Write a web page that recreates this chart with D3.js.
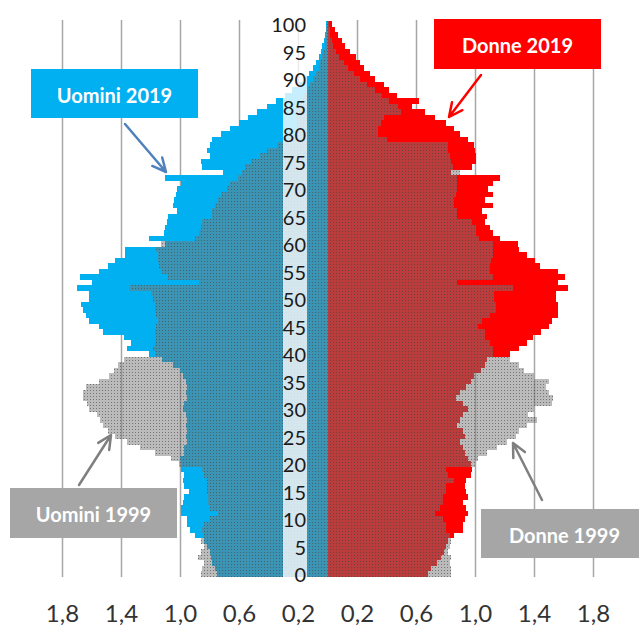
<!DOCTYPE html>
<html>
<head>
<meta charset="utf-8">
<script src="https://cdn.jsdelivr.net/npm/d3@7"></script>
<style>
body { margin:0; background:#fff; }
svg { display:block; font-family: Lato, "Open Sans", sans-serif; }
</style>
</head>
<body>
<svg id="chart" width="639" height="628"></svg>
<script>
// eta 0..100, quote in % della popolazione dello stesso sesso
var eta = d3.range(0, 101)

var uomini2019 = [0.75,0.76,0.78,0.79,0.80,0.82,0.84,0.90,0.93,0.95,
	0.95,0.99,0.99,0.98,0.97,0.94,0.97,0.98,0.97,0.99,
	0.99,1.00,0.97,0.97,0.95,0.96,0.95,0.96,0.95,0.96,
	0.98,0.97,0.95,0.96,0.95,0.96,0.98,1.00,1.05,1.12,
	1.21,1.36,1.33,1.38,1.52,1.55,1.62,1.64,1.66,1.67,
	1.62,1.62,1.70,1.60,1.68,1.55,1.49,1.44,1.37,1.37,
	1.10,1.21,1.11,1.10,1.09,1.08,1.02,1.05,1.04,1.03,
	1.02,0.99,1.10,0.71,0.85,0.86,0.80,0.82,0.80,0.78,
	0.72,0.66,0.60,0.54,0.48,0.41,0.35,0.29,0.24,0.19,
	0.155,0.125,0.10,0.08,0.06,0.045,0.035,0.025,0.018,0.012,
	0.01]

var uomini1999 = [0.86,0.85,0.84,0.88,0.86,0.84,0.86,0.84,0.85,0.84,
	0.80,0.74,0.80,0.81,0.81,0.82,0.82,0.82,0.84,0.85,
	1.01,1.06,1.17,1.27,1.36,1.44,1.49,1.52,1.54,1.56,
	1.62,1.63,1.66,1.66,1.64,1.55,1.48,1.45,1.42,1.38,
	1.17,1.18,1.17,1.16,1.17,1.16,1.15,1.16,1.17,1.17,
	1.18,1.20,1.34,0.87,1.08,1.12,1.14,1.15,1.15,1.16,
	1.13,0.90,0.87,0.86,0.85,0.78,0.78,0.76,0.74,0.72,
	0.68,0.66,0.61,0.58,0.56,0.52,0.46,0.41,0.34,0.30,
	0.22,0.21,0.21,0.22,0.22,0.20,0.18,0.16,0.14,0.12,
	0.10,0.08,0.06,0.05,0.04,0.03,0.02,0.015,0.01,0.007,
	0.005]

var donne2019 = [0.68,0.70,0.74,0.77,0.79,0.80,0.82,0.86,0.92,0.92,
	0.93,0.95,0.94,0.92,0.95,0.94,0.93,0.94,0.97,0.98,
	0.97,0.95,0.93,0.92,0.90,0.93,0.92,0.88,0.90,0.92,
	0.95,0.92,0.87,0.90,0.94,0.97,0.99,1.04,1.07,1.08,
	1.24,1.30,1.35,1.39,1.45,1.50,1.52,1.56,1.56,1.56,
	1.55,1.55,1.63,1.56,1.61,1.56,1.44,1.41,1.35,1.30,
	1.29,1.17,1.12,1.10,1.07,1.08,1.05,1.12,1.07,1.12,
	1.09,1.12,1.17,0.84,0.98,1.01,1.01,1.00,0.99,0.95,
	0.90,0.86,0.80,0.73,0.66,0.57,0.62,0.47,0.42,0.38,
	0.32,0.29,0.25,0.22,0.19,0.15,0.12,0.10,0.07,0.05,
	0.03]

var donne1999 = [0.84,0.84,0.83,0.84,0.82,0.83,0.84,0.83,0.80,0.80,
	0.78,0.73,0.76,0.78,0.78,0.80,0.80,0.86,0.82,0.80,
	1.00,1.02,1.08,1.15,1.22,1.28,1.30,1.35,1.42,1.36,
	1.40,1.52,1.53,1.50,1.48,1.50,1.40,1.33,1.30,1.24,
	1.12,1.12,1.10,1.07,1.07,1.02,1.05,1.10,1.14,1.14,
	1.13,1.13,1.26,0.88,1.12,1.10,1.10,1.11,1.12,1.12,
	1.12,1.03,1.01,1.01,0.98,0.88,0.88,0.86,0.86,0.87,
	0.88,0.88,0.88,0.90,0.85,0.84,0.83,0.82,0.82,0.40,
	0.34,0.34,0.36,0.38,0.50,0.48,0.42,0.37,0.32,0.27,
	0.22,0.18,0.14,0.11,0.08,0.06,0.04,0.03,0.02,0.015,
	0.01]

var tickValori = [0.2, 0.6, 1.0, 1.4, 1.8]
var etaEtichette = d3.range(0, 101, 5)

var svg = d3.select("#chart")
var x0 = 327.5

var xL = d3.scaleLinear().domain([0, 1.8]).range([x0, 62])
var xR = d3.scaleLinear().domain([0, 1.8]).range([x0, 593])
var y = d3.scaleBand().domain(eta).range([576.75, 21.25]).padding(0)

var fmt = function(v) { return d3.format(".1f")(v).replace(".", ",") }

// retino semitrasparente per il 1999
var defs = svg.append("defs")
var pat = defs.append("pattern").attr("id", "p1999")
	.attr("width", 3).attr("height", 3)
	.attr("patternUnits", "userSpaceOnUse")
pat.append("rect").attr("width", 3).attr("height", 3).attr("fill", "#777").attr("fill-opacity", 0.5)
pat.append("rect").attr("width", 1).attr("height", 1).attr("fill", "#444").attr("fill-opacity", 0.6)

function griglia(scale)
{
	svg.append("g")
		.attr("transform", "translate(0,577)")
		.call(d3.axisBottom(scale).tickValues(tickValori).tickFormat(fmt).tickSize(-557).tickPadding(28))
		.call(function(g) {
			g.select(".domain").remove()
			g.attr("font-family", null).attr("font-size", 24)
			g.selectAll("line").attr("stroke", "#a6a6a6").attr("stroke-width", 1.5)
			g.selectAll("text").attr("fill", "#333")
		})
}
griglia(xL)
griglia(xR)

var barre = svg.append("g").attr("shape-rendering", "crispEdges")

function lato(valori, scale, sinistra, fill)
{
	barre.append("g").selectAll("rect")
		.data(eta)
		.enter().append("rect")
			.attr("x", function(d) { return sinistra ? scale(valori[d]) : x0 })
			.attr("y", function(d) { return y(d) })
			.attr("width", function(d) { return Math.abs(scale(valori[d]) - x0) })
			.attr("height", y.bandwidth())
			.attr("fill", fill)
}
lato(uomini2019, xL, true, "#00b0f0")
lato(donne2019, xR, false, "#ff0000")
lato(uomini1999, xL, true, "url(#p1999)")
lato(donne1999, xR, false, "url(#p1999)")

// colonna delle eta
svg.append("rect")
	.attr("x", 283).attr("y", 18)
	.attr("width", 24).attr("height", 561)
	.attr("fill", "#fff").attr("opacity", 0.78)

svg.append("g").selectAll("text")
	.data(etaEtichette)
	.enter().append("text")
		.attr("x", 306)
		.attr("y", function(d) { return y(d) + y.bandwidth() / 2 })
		.attr("text-anchor", "end")
		.attr("dominant-baseline", "central")
		.attr("font-size", 20)
		.attr("fill", "#1a1a1a")
		.text(function(d) { return d })

var note = [
	{ testo: "Uomini 2019", box: [31, 69, 167, 49], fill: "#00b0f0", freccia: [125, 124, 166, 172], col: "#4f81bd" },
	{ testo: "Donne 2019", box: [434, 19, 167, 50], fill: "#ff0000", freccia: [481, 75, 449, 117], col: "#ff0000" },
	{ testo: "Uomini 1999", box: [10, 488, 167, 50], fill: "#a6a6a6", freccia: [79, 485, 111, 435], col: "#7f7f7f" },
	{ testo: "Donne 1999", box: [481, 509, 167, 49], fill: "#a6a6a6", freccia: [542, 500, 513, 443], col: "#7f7f7f" }
]

var n = svg.append("g").selectAll("g")
	.data(note)
	.enter().append("g")

n.append("rect")
	.attr("x", function(d) { return d.box[0] })
	.attr("y", function(d) { return d.box[1] })
	.attr("width", function(d) { return d.box[2] })
	.attr("height", function(d) { return d.box[3] })
	.attr("fill", function(d) { return d.fill })

n.append("text")
	.attr("x", function(d) { return d.box[0] + d.box[2] / 2 })
	.attr("y", function(d) { return d.box[1] + d.box[3] / 2 + 1 })
	.attr("text-anchor", "middle")
	.attr("dominant-baseline", "central")
	.attr("font-size", 20)
	.attr("font-weight", "bold")
	.attr("fill", "#fff")
	.text(function(d) { return d.testo })

n.append("path")
	.attr("d", function(d) {
		var f = d.freccia
		var a = Math.atan2(f[3] - f[1], f[2] - f[0])
		var h = 15, w = 0.45
		var p1 = [f[2] - h * Math.cos(a - w), f[3] - h * Math.sin(a - w)]
		var p2 = [f[2] - h * Math.cos(a + w), f[3] - h * Math.sin(a + w)]
		return "M" + f[0] + "," + f[1] + "L" + f[2] + "," + f[3] +
			"M" + p1 + "L" + f[2] + "," + f[3] + "L" + p2
	})
	.attr("fill", "none")
	.attr("stroke", function(d) { return d.col })
	.attr("stroke-width", 2.5)
	.attr("stroke-linecap", "round")
	.attr("stroke-linejoin", "round")
</script>
</body>
</html>
